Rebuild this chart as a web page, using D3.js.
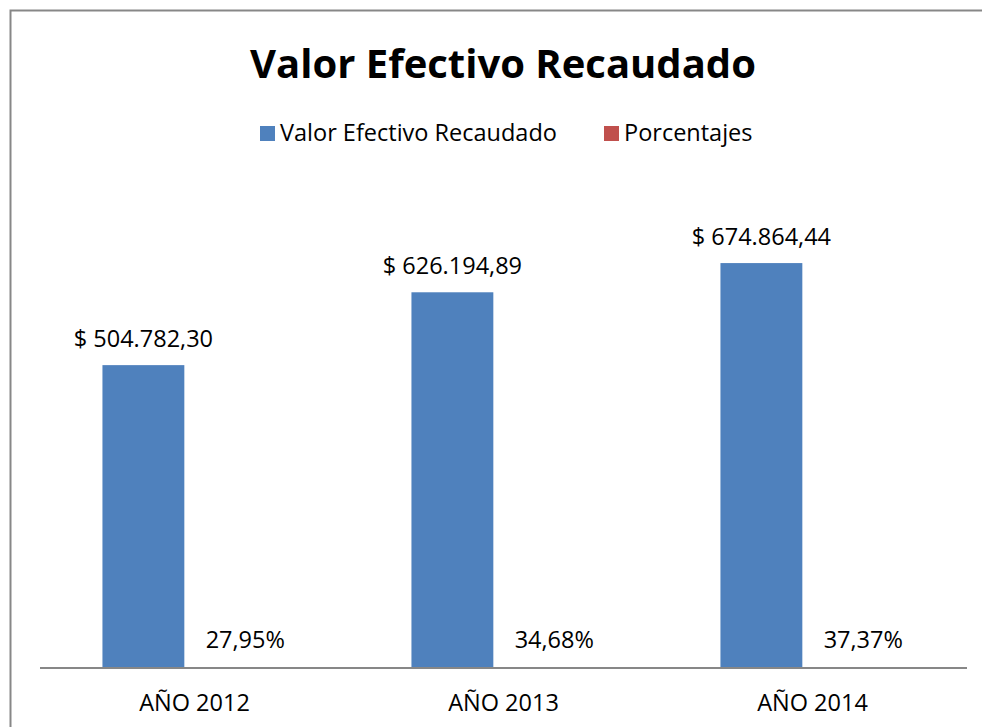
<!DOCTYPE html>
<html>
<head>
<meta charset="utf-8">
<script src="https://cdn.jsdelivr.net/npm/d3@7"></script>
<style>
  body { margin: 0; background: #fff; }
  svg { display: block; }
</style>
</head>
<body>
<svg width="982" height="727"></svg>
<script>
let categories = ["AÑO 2012", "AÑO 2013", "AÑO 2014"];
let seriesNames = ["Valor Efectivo Recaudado", "Porcentajes"];
let valores = [504782.30, 626194.89, 674864.44];
let porcentajes = [0.2795, 0.3468, 0.3737];
let valorLabels = ["$ 504.782,30", "$ 626.194,89", "$ 674.864,44"];
let pctLabels = ["27,95%", "34,68%", "37,37%"];
let colors = ["#4F81BD", "#C0504D"];

let svg = d3.select("svg"),
    font = "'Open Sans', 'Noto Sans', sans-serif",
    plot = {left: 40, right: 967, top: 188, bottom: 668};

// chart frame
svg.append("rect")
    .attr("x", 10.5).attr("y", 10.5)
    .attr("width", 1000).attr("height", 800)
    .attr("fill", "none")
    .attr("stroke", "#878787")
    .attr("stroke-width", 2);

svg.append("text")
    .attr("x", 503).attr("y", 78)
    .attr("text-anchor", "middle")
    .style("font", "bold 40px " + font)
    .text("Valor Efectivo Recaudado");

// legend
let legend = svg.append("g");
let legendX = [260, 604];
seriesNames.forEach((name, i) => {
  legend.append("rect")
      .attr("x", legendX[i]).attr("y", 126)
      .attr("width", 15).attr("height", 15)
      .attr("fill", colors[i]);
  legend.append("text")
      .attr("x", legendX[i] + 20).attr("y", 141)
      .style("font", "23.5px " + font)
      .attr("fill", "#000")
      .text(name);
});

let x0 = d3.scaleBand()
    .domain(categories)
    .range([plot.left, plot.right]);

let xg = d3.scaleBand()
    .domain(categories)
    .range([plot.left, plot.right])
    .paddingInner(0.47)
    .paddingOuter(0.235)
    .align(0.43);

let x1 = d3.scaleBand()
    .domain(seriesNames)
    .range([0, xg.bandwidth()]);

let y = d3.scaleLinear()
    .domain([0, 800000])
    .range([plot.bottom, plot.top]);

let g = svg.append("g");

// value bars
g.selectAll(".bar-valor")
  .data(valores)
  .enter().append("rect")
    .attr("class", "bar-valor")
    .attr("x", (d, i) => xg(categories[i]) + x1(seriesNames[0]))
    .attr("y", d => y(d))
    .attr("width", x1.bandwidth())
    .attr("height", d => y(0) - y(d))
    .attr("fill", colors[0]);

// percentage bars (on the same axis, so practically flat)
g.selectAll(".bar-pct")
  .data(porcentajes)
  .enter().append("rect")
    .attr("class", "bar-pct")
    .attr("x", (d, i) => xg(categories[i]) + x1(seriesNames[1]))
    .attr("y", d => y(d))
    .attr("width", x1.bandwidth())
    .attr("height", d => y(0) - y(d))
    .attr("fill", colors[1]);

g.selectAll(".lbl-valor")
  .data(valores)
  .enter().append("text")
    .attr("class", "lbl-valor")
    .attr("x", (d, i) => xg(categories[i]) + x1(seriesNames[0]) + x1.bandwidth() / 2)
    .attr("y", d => y(d) - 18)
    .attr("text-anchor", "middle")
    .style("font", "23.5px " + font)
    .text((d, i) => valorLabels[i]);

g.selectAll(".lbl-pct")
  .data(porcentajes)
  .enter().append("text")
    .attr("class", "lbl-pct")
    .attr("x", (d, i) => xg(categories[i]) + x1(seriesNames[1]) + x1.bandwidth() / 2 + 20)
    .attr("y", d => y(d) - 20)
    .attr("text-anchor", "middle")
    .style("font", "23.5px " + font)
    .text((d, i) => pctLabels[i]);

// category axis
let axis = svg.append("g")
    .attr("transform", "translate(0," + plot.bottom + ")")
    .call(d3.axisBottom(x0).tickSize(0).tickPadding(26));

axis.select(".domain")
    .attr("stroke", "#878787")
    .attr("stroke-width", 2)
    .attr("d", "M" + plot.left + ",0H" + plot.right);

axis.selectAll("text")
    .style("font", "23.5px " + font)
    .attr("fill", "#000");
</script>
</body>
</html>
